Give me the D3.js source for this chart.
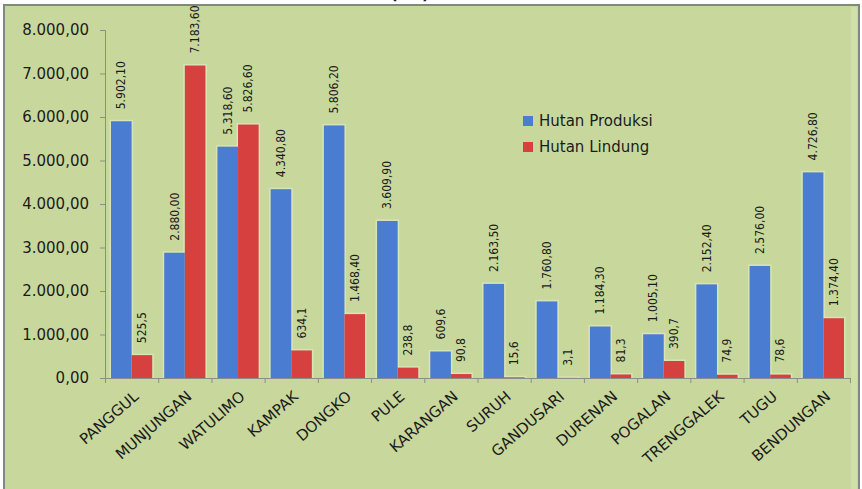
<!DOCTYPE html>
<html>
<head>
<meta charset="utf-8">
<script src="https://cdn.jsdelivr.net/npm/d3@7"></script>
<style>
  html, body { margin: 0; padding: 0; background: #ffffff; }
  svg { display: block; }
</style>
</head>
<body>
<svg id="chart" width="862" height="489"></svg>
<script>
// ---- data ----
const categories = ["PANGGUL","MUNJUNGAN","WATULIMO","KAMPAK","DONGKO","PULE","KARANGAN","SURUH","GANDUSARI","DURENAN","POGALAN","TRENGGALEK","TUGU","BENDUNGAN"];
const seriesNames = ["Hutan Produksi","Hutan Lindung"];
const produksi = [5902.10, 2880.00, 5318.60, 4340.80, 5806.20, 3609.90, 609.6, 2163.50, 1760.80, 1184.30, 1005.10, 2152.40, 2576.00, 4726.80];
const lindung  = [525.5, 7183.60, 5826.60, 634.1, 1468.40, 238.8, 90.8, 15.6, 3.1, 81.3, 390.7, 74.9, 78.6, 1374.40];
const produksiLabels = ["5.902,10","2.880,00","5.318,60","4.340,80","5.806,20","3.609,90","609,6","2.163,50","1.760,80","1.184,30","1.005,10","2.152,40","2.576,00","4.726,80"];
const lindungLabels  = ["525,5","7.183,60","5.826,60","634,1","1.468,40","238,8","90,8","15,6","3,1","81,3","390,7","74,9","78,6","1.374,40"];
const yTicks = [0,1000,2000,3000,4000,5000,6000,7000,8000];
const titleText = "(Ha)";

// ---- styles ----
const colors = ["#4a7dd2", "#d6403f"];
const font = "'DejaVu Sans', Verdana, sans-serif";
const labelFont = "'DejaVu Sans Condensed', 'Liberation Sans', Arial, sans-serif";
const textColor = "#1b1b1b";
const axisColor = "#8a8f86";

const svg = d3.select("#chart");

// frame
svg.append("rect").attr("x", 4).attr("y", 5).attr("width", 855).attr("height", 500)
  .attr("fill", "#c8d89c").attr("stroke", "#7f8a7e").attr("stroke-width", 2);
svg.append("rect").attr("x", 851).attr("y", 7).attr("width", 6).attr("height", 490)
  .attr("fill", "#d4e2ae").attr("opacity", 0.7);

// title (cut off at top)
svg.append("text").attr("x", 410).attr("y", -1).attr("text-anchor", "middle")
  .attr("font-family", font).attr("font-size", 16).attr("font-weight", "bold")
  .attr("fill", textColor).text(titleText);

const plotL = 105, plotR = 850, plotT = 30, plotB = 378;

const y = d3.scaleLinear().domain([0, 8000]).range([plotB, plotT]);
const x = d3.scaleBand().domain(categories).range([plotL, plotR]).paddingInner(0).paddingOuter(0);
const bw = x.bandwidth();
const x1 = d3.scaleBand().domain([0, 1]).range([6, bw - 6]).padding(0);
const xb = d3.scaleLinear().domain([0, categories.length]).range([plotL, plotR]);

const loc = d3.formatLocale({decimal: ",", thousands: ".", grouping: [3], currency: ["", ""]});
const fmt = loc.format(",.2f");

// y axis
const gy = svg.append("g").attr("transform", `translate(${plotL},0)`)
  .call(d3.axisLeft(y).tickValues(yTicks).tickFormat(fmt).tickSize(5).tickPadding(11));
gy.select(".domain").attr("stroke", axisColor);
gy.selectAll(".tick line").attr("stroke", axisColor);
gy.selectAll(".tick text").attr("font-family", font).attr("font-size", 15).attr("fill", textColor);

// bars
const series = [produksi, lindung];
const seriesLabels = [produksiLabels, lindungLabels];
const data = [];
categories.forEach((c, i) => {
  series.forEach((s, k) => data.push({c, k, v: s[i], label: seriesLabels[k][i]}));
});

const g = svg.append("g");
g.selectAll("rect.glow").data(data).join("rect").attr("class", "glow")
  .attr("x", d => x(d.c) + x1(d.k) - 1.5)
  .attr("y", d => y(d.v) - 1.5)
  .attr("width", x1.bandwidth() + 3)
  .attr("height", d => plotB - y(d.v) + 1.5)
  .attr("fill", "#e4ecc8").attr("opacity", 0.6);
g.selectAll("rect.bar").data(data).join("rect").attr("class", "bar")
  .attr("x", d => x(d.c) + x1(d.k))
  .attr("y", d => y(d.v))
  .attr("width", x1.bandwidth())
  .attr("height", d => plotB - y(d.v))
  .attr("fill", d => colors[d.k]);

// data labels
g.selectAll("text.val").data(data).join("text").attr("class", "val")
  .attr("transform", d => `translate(${x(d.c) + x1(d.k) + x1.bandwidth() / 2},${y(d.v) - 12}) rotate(-90)`)
  .attr("text-anchor", "start").attr("dominant-baseline", "central")
  .attr("font-family", labelFont).attr("font-size", 12).attr("fill", textColor)
  .text(d => d.label);

// x axis
const gx = svg.append("g").attr("transform", `translate(0,${plotB})`)
  .call(d3.axisBottom(xb).tickValues(d3.range(categories.length + 1)).tickFormat("").tickSize(5));
gx.select(".domain").attr("stroke", axisColor);
gx.selectAll(".tick line").attr("stroke", axisColor);

svg.append("g").selectAll("text.cat").data(categories).join("text").attr("class", "cat")
  .attr("transform", d => `translate(${x(d) + bw / 2 + 8},${plotB + 20}) rotate(-41)`)
  .attr("text-anchor", "end")
  .attr("font-family", font).attr("font-size", 15).attr("fill", textColor)
  .text(d => d);

// legend
const lg = svg.append("g").attr("transform", "translate(523,116)");
seriesNames.forEach((n, k) => {
  lg.append("rect").attr("x", 0).attr("y", k * 26).attr("width", 10).attr("height", 10).attr("fill", colors[k]);
  lg.append("text").attr("x", 16).attr("y", k * 26 + 5).attr("dominant-baseline", "central")
    .attr("font-family", font).attr("font-size", 15).attr("fill", textColor).text(n);
});
</script>
</body>
</html>
